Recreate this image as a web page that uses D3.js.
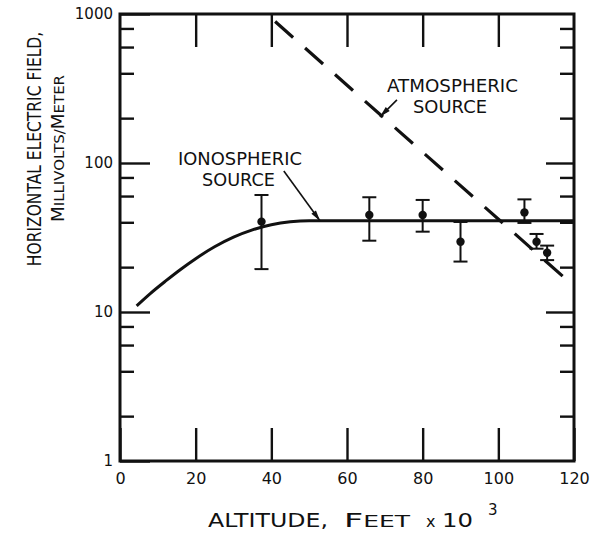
<!DOCTYPE html>
<html>
<head>
<meta charset="utf-8">
<script src="https://cdn.jsdelivr.net/npm/d3@7"></script>
<style>
  body { margin: 0; background: #fff; }
  svg text { font-family: "DejaVu Sans", sans-serif; fill: #111; }
</style>
</head>
<body>
<div id="chart"></div>
<script>
// altitude (thousands of feet) and field (mV/m)
const altitudes = [37.4, 65.9, 80.0, 90.0, 106.9, 110.1, 112.9];
const fieldMean = [40.4, 44.8, 44.8, 29.6, 46.6, 29.6, 25.0];
const fieldHigh = [61, 58.9, 56.5, 40.2, 57, 33.4, 27.9];
const fieldLow = [19.4, 30.1, 34.6, 21.8, 39.6, 26.6, 22.3];

// ionospheric source curve
const ionoAlt = [4.4, 8, 12, 16, 20, 25, 30, 35, 40, 45, 50, 60, 120];
const ionoField = [11, 13.3, 16.1, 19.3, 22.8, 27.4, 31.8, 35.6, 38.5, 40.3, 41, 41, 41];

// atmospheric source (dashed, straight on log scale)
const atmoAlt = [41, 119];
const atmoField = [890, 15.7];

const xTicks = [0, 20, 40, 60, 80, 100, 120];
const yMajor = [1, 10, 100, 1000];
const yMinor = [2, 4, 6, 8, 20, 40, 60, 80, 200, 400, 600, 800];

const W = 591, H = 536;
const svg = d3.select("#chart").append("svg").attr("width", W).attr("height", H);

const x = d3.scaleLinear().domain([0, 120]).range([120, 574]);
const y = d3.scaleLog().domain([1, 1000]).range([461, 14]);

// frame
svg.append("rect")
  .attr("x", x(0)).attr("y", y(1000))
  .attr("width", x(120) - x(0)).attr("height", y(1) - y(1000))
  .attr("fill", "none").attr("stroke", "#111").attr("stroke-width", 3);

const styleAxis = (g) => {
  g.select(".domain").remove();
  g.selectAll(".tick line").attr("stroke", "#111").attr("stroke-width", 2.4);
  g.selectAll(".tick text").attr("fill", "#111").style("font-size", "15px");
};

// bottom axis with labels
svg.append("g")
  .attr("transform", `translate(0,${y(1)})`)
  .call(d3.axisBottom(x).tickValues(xTicks).tickSizeInner(-33).tickSizeOuter(0).tickPadding(12).tickFormat(d3.format("d")))
  .call(styleAxis)
  .call((g) => g.selectAll(".tick text").style("font-size", "16px"));

// top axis ticks only
svg.append("g")
  .attr("transform", `translate(0,${y(1000)})`)
  .call(d3.axisTop(x).tickValues(xTicks.slice(1, -1)).tickSizeInner(-33).tickSizeOuter(0).tickFormat(""))
  .call(styleAxis);

// left axis
svg.append("g")
  .attr("transform", `translate(${x(0)},0)`)
  .call(d3.axisLeft(y).tickValues(yMajor).tickSizeInner(-30).tickSizeOuter(0).tickPadding(7).tickFormat(d3.format("d")))
  .call(styleAxis);
svg.append("g")
  .attr("transform", `translate(${x(0)},0)`)
  .call(d3.axisLeft(y).tickValues(yMinor).tickSizeInner(-14).tickSizeOuter(0).tickFormat(""))
  .call(styleAxis);

// right axis
svg.append("g")
  .attr("transform", `translate(${x(120)},0)`)
  .call(d3.axisRight(y).tickValues(yMajor.slice(1, -1)).tickSizeInner(-28).tickSizeOuter(0).tickFormat(""))
  .call(styleAxis);
svg.append("g")
  .attr("transform", `translate(${x(120)},0)`)
  .call(d3.axisRight(y).tickValues(yMinor).tickSizeInner(-14).tickSizeOuter(0).tickFormat(""))
  .call(styleAxis);

// ionospheric curve
svg.append("path")
  .datum(d3.zip(ionoAlt, ionoField))
  .attr("d", d3.line().x((d) => x(d[0])).y((d) => y(d[1])).curve(d3.curveMonotoneX))
  .attr("fill", "none").attr("stroke", "#111").attr("stroke-width", 3);

// atmospheric dashed line
svg.append("path")
  .datum(d3.zip(atmoAlt, atmoField))
  .attr("d", d3.line().x((d) => x(d[0])).y((d) => y(d[1])))
  .attr("fill", "none").attr("stroke", "#111").attr("stroke-width", 3.2)
  .attr("stroke-dasharray", "24,16");

// error bars
const pts = altitudes.map((a, i) => ({ a, m: fieldMean[i], hi: fieldHigh[i], lo: fieldLow[i] }));
const eb = svg.append("g").attr("stroke", "#111").attr("stroke-width", 2);
eb.selectAll(".stem").data(pts).enter().append("line")
  .attr("x1", (d) => x(d.a)).attr("x2", (d) => x(d.a))
  .attr("y1", (d) => y(d.hi)).attr("y2", (d) => y(d.lo));
eb.selectAll(".capHi").data(pts).enter().append("line")
  .attr("x1", (d) => x(d.a) - 7).attr("x2", (d) => x(d.a) + 7)
  .attr("y1", (d) => y(d.hi)).attr("y2", (d) => y(d.hi));
eb.selectAll(".capLo").data(pts).enter().append("line")
  .attr("x1", (d) => x(d.a) - 7).attr("x2", (d) => x(d.a) + 7)
  .attr("y1", (d) => y(d.lo)).attr("y2", (d) => y(d.lo));
svg.selectAll(".dot").data(pts).enter().append("circle")
  .attr("cx", (d) => x(d.a)).attr("cy", (d) => y(d.m)).attr("r", 4.2).attr("fill", "#111");

// annotations
const leader = (x1, y1, x2, y2) => {
  svg.append("line").attr("x1", x1).attr("y1", y1).attr("x2", x2).attr("y2", y2)
    .attr("stroke", "#111").attr("stroke-width", 1.6);
  const ang = Math.atan2(y2 - y1, x2 - x1);
  const L = 11, w = 2.8;
  const bx = x2 - L * Math.cos(ang), by = y2 - L * Math.sin(ang);
  const px = -Math.sin(ang) * w, py = Math.cos(ang) * w;
  svg.append("polygon")
    .attr("points", `${x2},${y2} ${bx + px},${by + py} ${bx - px},${by - py}`)
    .attr("fill", "#111");
};
leader(x(43.3), y(88.3), x(52.9), y(40.8));
leader(x(73.2), y(265), x(68.7), y(204));

const note = (tx, ty, s, len) => svg.append("text").attr("x", tx).attr("y", ty)
  .attr("textLength", len).attr("lengthAdjust", "spacingAndGlyphs")
  .style("font-size", "17px").text(s);
note(178, 165, "IONOSPHERIC", 124);
note(202, 186, "SOURCE", 73);
note(387, 92, "ATMOSPHERIC", 131);
note(413, 113, "SOURCE", 74);

// x title
const xpart = (tx, ty, fs, len, parts) => {
  const t = svg.append("text").attr("x", tx).attr("y", ty).style("font-size", fs + "px");
  if (len) t.attr("textLength", len).attr("lengthAdjust", "spacingAndGlyphs");
  parts.forEach(([s, f]) => t.append("tspan").style("font-size", f + "px").text(s));
};
xpart(208, 527, 20, 120, [["ALTITUDE,", 20]]);
xpart(344, 527, 20, 66, [["F", 20], ["EET", 15]]);
xpart(426, 527, 16, 0, [["x", 16]]);
xpart(442, 527, 20, 31, [["10", 20]]);
xpart(488, 515, 15, 0, [["3", 15]]);

// y title: letters drawn narrow and tall, like the lettering guide
const yt = svg.append("g").attr("transform", "translate(41,149) rotate(-90) scale(1,1.3)");
yt.append("text").attr("text-anchor", "middle").attr("y", 0)
  .style("font-size", "15.5px").text("HORIZONTAL  ELECTRIC  FIELD,");
const yt2 = yt.append("text").attr("x", -73).attr("y", 18)
  .attr("textLength", 147).attr("lengthAdjust", "spacingAndGlyphs")
  .style("font-size", "14px");
yt2.append("tspan").text("M");
yt2.append("tspan").style("font-size", "11.5px").text("ILLIVOLTS/");
yt2.append("tspan").text("M");
yt2.append("tspan").style("font-size", "11.5px").text("ETER");
</script>
</body>
</html>
